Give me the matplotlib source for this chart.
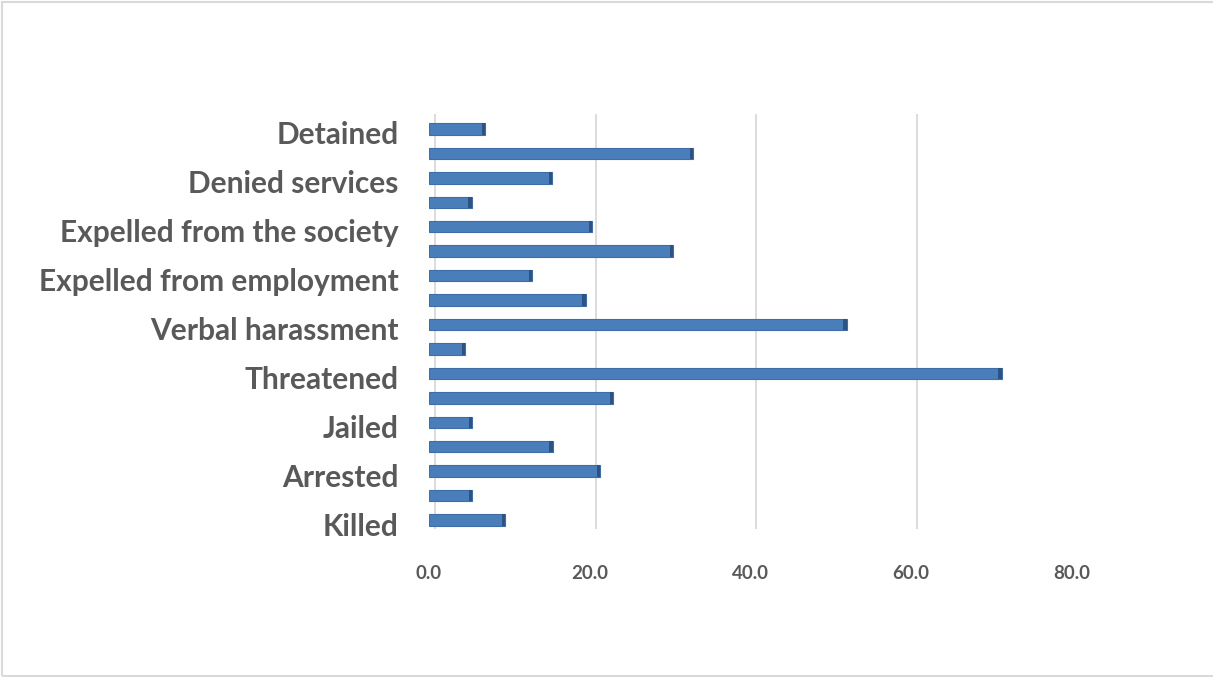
import matplotlib.pyplot as plt
import matplotlib.transforms as mtransforms
from matplotlib.patches import Rectangle

# Categories from bottom to top; every other category label is hidden on the axis
categories = ["Killed", "", "Arrested", "", "Jailed", "", "Threatened", "",
              "Verbal harassment", "", "Expelled from employment", "",
              "Expelled from the society", "", "Denied services", "", "Detained"]
values = [9.5, 5.4, 21.3, 15.4, 5.4, 22.9, 71.3, 4.5, 52.0, 19.5,
          12.8, 30.4, 20.3, 5.3, 15.3, 32.9, 7.0]
xticks = [0, 20, 40, 60, 80]
xtick_labels = ["0.0", "20.0", "40.0", "60.0", "80.0"]

text_color = "#595959"
bar_color = "#4A7EBB"
side_color = "#2E5383"
plt.rcParams['font.family'] = ['Lato', 'DejaVu Sans']

fig = plt.figure(figsize=(12.13, 6.77), dpi=100)
ax = fig.add_axes([0.3537, 0.2102, 0.8833 - 0.3537, 0.621])

ypos = list(range(len(values)))

# gridlines on the back wall, slightly shifted to the right
grid_shift = mtransforms.offset_copy(ax.transData, fig=fig, x=6, y=0, units='dots')
for t in xticks:
    ax.plot([t, t], [-0.35, 16.6], color="#D9D9D9", lw=1.3, transform=grid_shift,
            zorder=0, solid_capstyle='butt')

# front faces of the bars
ax.barh(ypos, values, height=0.47, color=bar_color, edgecolor="#3F6EA6",
        linewidth=0.8, zorder=2)
# darker side faces at the bar ends
ax.barh(ypos, [0.4] * len(values), left=[v - 0.4 for v in values], height=0.47,
        color=side_color, linewidth=0, zorder=3)

ax.set_xlim(0, 80)
ax.set_ylim(-0.6, 16.6)
ax.set_xticks(xticks)
ax.set_xticklabels(xtick_labels, fontsize=13.5, fontweight='bold', color=text_color)
ax.set_yticks(ypos)
ax.set_yticklabels(categories, fontsize=21.5, fontweight='bold', color=text_color)
ax.tick_params(axis='x', length=0, pad=22)
ax.tick_params(axis='y', length=0, pad=22)
for s in ax.spines.values():
    s.set_visible(False)

# nudge category labels a little below the bar centres
down = mtransforms.ScaledTranslation(0, -4 / 100, fig.dpi_scale_trans)
for lbl in ax.get_yticklabels():
    lbl.set_transform(lbl.get_transform() + down)

# light chart border
fig.patches.append(Rectangle((0.0015, 0.001), 1.2, 0.9955, transform=fig.transFigure,
                             fill=False, edgecolor="#D9D9D9", lw=1.5))

fig.savefig("out.png", dpi=100)
